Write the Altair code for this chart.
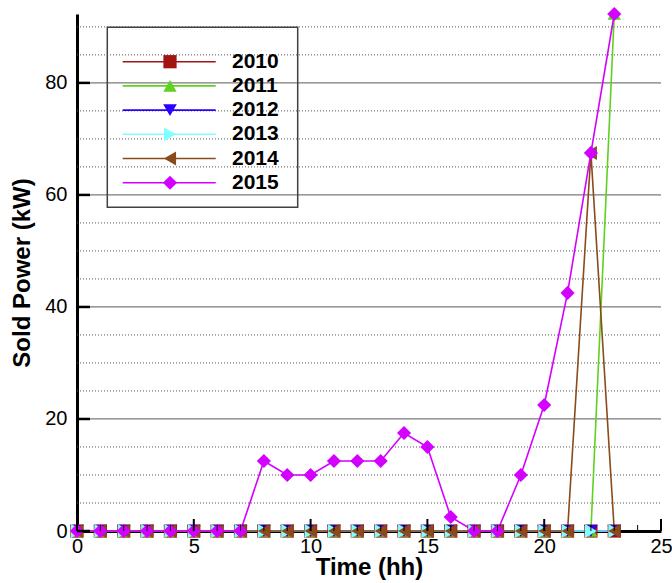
import altair as alt
import pandas as pd

# Hour of day and the power sold to the grid (kW) for each year
hours = [0, 1, 2, 3, 4, 5, 6, 7, 8, 9, 10, 11, 12, 13, 14, 15, 16, 17, 18, 19, 20, 21, 22, 23]
years = ["2010", "2011", "2012", "2013", "2014", "2015"]

sold_2010 = [0, 0, 0, 0, 0, 0, 0, 0, 0, 0, 0, 0, 0, 0, 0, 0, 0, 0, 0, 0, 0, 0, 0, 0]
sold_2011 = [0, 0, 0, 0, 0, 0, 0, 0, 0, 0, 0, 0, 0, 0, 0, 0, 0, 0, 0, 0, 0, 0, 0, 92.3]
sold_2012 = [0, 0, 0, 0, 0, 0, 0, 0, 0, 0, 0, 0, 0, 0, 0, 0, 0, 0, 0, 0, 0, 0, 0, 0]
sold_2013 = [0, 0, 0, 0, 0, 0, 0, 0, 0, 0, 0, 0, 0, 0, 0, 0, 0, 0, 0, 0, 0, 0, 0, 0]
sold_2014 = [0, 0, 0, 0, 0, 0, 0, 0, 0, 0, 0, 0, 0, 0, 0, 0, 0, 0, 0, 0, 0, 0, 67.5, 0]
sold_2015 = [0, 0, 0, 0, 0, 0, 0, 0, 12.5, 10, 10, 12.5, 12.5, 12.5, 17.5, 15, 2.5,
             0, 0, 10, 22.5, 42.5, 67.5, 92.3]

series = [sold_2010, sold_2011, sold_2012, sold_2013, sold_2014, sold_2015]

colors = ["#A01414", "#5FD11F", "#2A00FF", "#80FFFF", "#8B4A1A", "#D400FF"]
shapes = ["square", "triangle-up", "triangle-down", "triangle-right", "triangle-left", "diamond"]
sizes = [175, 200, 200, 200, 200, 360]

x_ticks_major = [0, 5, 10, 15, 20, 25]
x_ticks_minor = [1, 2, 3, 4, 6, 7, 8, 9, 11, 12, 13, 14, 16, 17, 18, 19, 21, 22, 23, 24]
y_ticks_major = [0, 20, 40, 60, 80]
grid_major = [20, 40, 60, 80]
grid_minor = [5, 10, 15, 25, 30, 35, 45, 50, 55, 65, 70, 75, 85, 90]

Y_MAX = 92.3
W, H = 584, 517
FONT = "Liberation Sans"

rows = []
for year, vals in zip(years, series):
    for h, v in zip(hours, vals):
        rows.append({"hour": h, "year": year, "power": v})
df = pd.DataFrame(rows)

x_scale = alt.Scale(domain=[0, 25], nice=False, zero=False)
y_scale = alt.Scale(domain=[0, Y_MAX], nice=False, zero=True)

x_axis = alt.Axis(
    title="Time (hh)", values=x_ticks_major, format="d", ticks=False, grid=False,
    labelPadding=5, titleY=24, labelFlush=False, labelOverlap=False,
)
y_axis = alt.Axis(
    title="Sold Power (kW)", values=y_ticks_major, format="d", ticks=False, grid=False,
    labelPadding=10, titlePadding=10, labelFlush=False, labelOverlap=False,
)

color_enc = alt.Color("year:N", scale=alt.Scale(domain=years, range=colors), legend=None)
shape_enc = alt.Shape("year:N", scale=alt.Scale(domain=years, range=shapes), legend=None)
size_enc = alt.Size("year:N", scale=alt.Scale(domain=years, range=sizes), legend=None)

# horizontal grid: dotted every 5 kW, solid every 20 kW
grid_minor_layer = alt.Chart(pd.DataFrame({"level": grid_minor})).mark_rule(
    color="#555555", strokeWidth=1, strokeDash=[1, 2]
).encode(
    y=alt.Y("level:Q", scale=y_scale, axis=y_axis),
    x=alt.value(0), x2=alt.value(W),
)
grid_major_layer = alt.Chart(pd.DataFrame({"level": grid_major})).mark_rule(
    color="#7a7a7a", strokeWidth=1.3
).encode(
    y=alt.Y("level:Q", scale=y_scale, axis=y_axis),
    x=alt.value(0), x2=alt.value(W),
)

lines = alt.Chart(df).mark_line(strokeWidth=1.6).encode(
    x=alt.X("hour:Q", scale=x_scale, axis=x_axis),
    y=alt.Y("power:Q", scale=y_scale, axis=y_axis),
    color=color_enc,
    detail="year:N",
)

points = alt.Chart(df).mark_point(filled=True, opacity=1, strokeWidth=0).encode(
    x=alt.X("hour:Q", scale=x_scale, axis=x_axis),
    y=alt.Y("power:Q", scale=y_scale, axis=y_axis),
    color=color_enc,
    shape=shape_enc,
    size=size_enc,
)

# inward-pointing tick marks
xt_major = alt.Chart(pd.DataFrame({"t": x_ticks_major})).mark_rule(
    color="black", strokeWidth=2
).encode(
    x=alt.X("t:Q", scale=x_scale, axis=x_axis),
    y=alt.value(H - 12), y2=alt.value(H),
)
xt_minor = alt.Chart(pd.DataFrame({"t": x_ticks_minor})).mark_rule(
    color="black", strokeWidth=1
).encode(
    x=alt.X("t:Q", scale=x_scale, axis=x_axis),
    y=alt.value(H - 6), y2=alt.value(H),
)
yt_major = alt.Chart(pd.DataFrame({"t": y_ticks_major})).mark_rule(
    color="black", strokeWidth=2.5
).encode(
    y=alt.Y("t:Q", scale=y_scale, axis=y_axis),
    x=alt.value(0), x2=alt.value(13),
)

main = alt.layer(grid_minor_layer, grid_major_layer, lines, points, xt_major, xt_minor, yt_major)

# legend drawn inside the plot
legend_y = alt.Y(
    "year:N",
    scale=alt.Scale(type="point", domain=years, range=[47.7, 168.7], padding=0),
    axis=None,
)
legend_df = pd.DataFrame({"year": years})

legend_box = alt.Chart(alt.Data(values=[{"box": 1}])).mark_rect(
    fill=None, stroke="#404040", strokeWidth=1.5
).encode(
    x=alt.value(30.3), x2=alt.value(220.7), y=alt.value(13.3), y2=alt.value(193.3)
)
legend_lines = alt.Chart(legend_df).mark_rule(strokeWidth=1.6).encode(
    y=legend_y, x=alt.value(45.7), x2=alt.value(138.7), color=color_enc
)
legend_points = alt.Chart(legend_df).mark_point(filled=True, opacity=1, strokeWidth=0).encode(
    y=legend_y, x=alt.value(93), color=color_enc, shape=shape_enc, size=size_enc
)
legend_text = alt.Chart(legend_df).mark_text(
    align="left", baseline="middle", font=FONT, fontSize=21, fontWeight="bold", color="black"
).encode(
    y=legend_y, x=alt.value(155), text="year:N"
)
legend = alt.layer(legend_box, legend_lines, legend_points, legend_text)

chart = alt.layer(main, legend).resolve_scale(y="independent").properties(
    width=W,
    height=H,
    autosize=alt.AutoSizeParams(type="none"),
    padding={"left": 77, "top": 14, "right": 11, "bottom": 52},
    background="white",
).configure_view(
    stroke=None
).configure_axis(
    domainColor="black",
    domainWidth=3,
    labelFont=FONT,
    labelFontSize=20,
    labelColor="black",
    titleFont=FONT,
    titleFontSize=24,
    titleFontWeight="bold",
    titleColor="black",
)

chart.save("out.html", embed_options={"renderer": "svg", "actions": False})
